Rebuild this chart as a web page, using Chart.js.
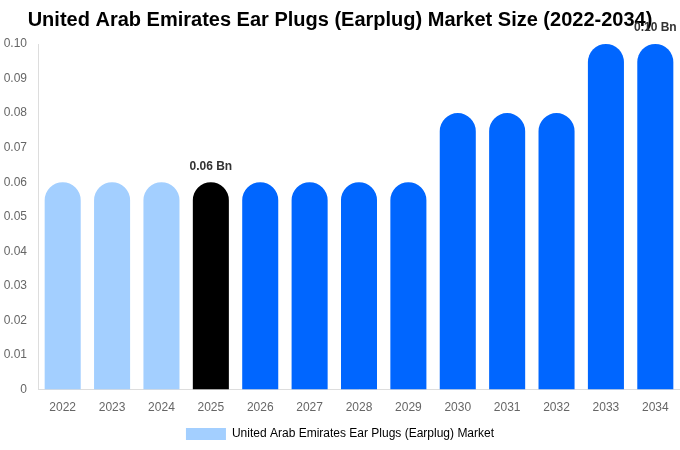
<!DOCTYPE html>
<html>
<head>
<meta charset="utf-8">
<script src="https://cdn.jsdelivr.net/npm/chart.js@4"></script>
<style>
  html, body { margin: 0; padding: 0; background: #fff; }
  #wrap { width: 680px; height: 450px; }
</style>
</head>
<body>
<div id="wrap"><canvas id="myCanvas"></canvas></div>
<script>
const years = ["2022", "2023", "2024", "2025", "2026", "2027", "2028", "2029", "2030", "2031", "2032", "2033", "2034"];
const marketSize = [0.06, 0.06, 0.06, 0.06, 0.06, 0.06, 0.06, 0.06, 0.08, 0.08, 0.08, 0.10, 0.10];
const barColors = ["#a3cfff", "#a3cfff", "#a3cfff", "#000000", "#0066ff", "#0066ff", "#0066ff", "#0066ff", "#0066ff", "#0066ff", "#0066ff", "#0066ff", "#0066ff"];
const labelledBars = [3, 12];

// draws the "x Bn" text above a few bars
const valueLabels = {
   id: "valueLabels",
   afterDatasetsDraw(chart) {
      const ctx = chart.ctx;
      const meta = chart.getDatasetMeta(0);
      ctx.save();
      ctx.font = "bold 12px 'Liberation Sans', Arial, sans-serif";
      ctx.fillStyle = "#333";
      ctx.textAlign = "center";
      ctx.textBaseline = "bottom";
      labelledBars.forEach(i => {
         const bar = meta.data[i];
         ctx.fillText(marketSize[i].toFixed(2) + " Bn", bar.x, bar.y - 10);
      });
      ctx.restore();
   }
};

Chart.defaults.font.family = "'Liberation Sans', Arial, sans-serif";
Chart.defaults.color = "#666";

new Chart(document.getElementById("myCanvas").getContext("2d"), {
   type: "bar",
   data: {
      labels: years,
      datasets: [
         {
            label: "United Arab Emirates Ear Plugs (Earplug) Market",
            data: marketSize,
            backgroundColor: barColors,
            borderRadius: 20,
            borderSkipped: "bottom",
            barPercentage: 0.73,
            categoryPercentage: 1
         }
      ]
   },
   options: {
      responsive: true,
      maintainAspectRatio: false,
      animation: false,
      layout: { padding: 0 },
      plugins: {
         title: {
            display: true,
            text: "United Arab Emirates Ear Plugs (Earplug) Market Size (2022-2034)",
            color: "#000",
            font: { size: 20, weight: "bold" },
            padding: { top: 8, bottom: 12 }
         },
         legend: {
            position: "bottom",
            labels: {
               boxWidth: 40,
               boxHeight: 12,
               color: "#666",
               font: { size: 12 },
               generateLabels: () => [{
                  text: "United Arab Emirates Ear Plugs (Earplug) Market",
                  fillStyle: "#a3cfff",
                  strokeStyle: "#a3cfff",
                  lineWidth: 0,
                  hidden: false,
                  datasetIndex: 0
               }]
            }
         },
         tooltip: { enabled: false }
      },
      scales: {
         x: {
            grid: { display: false, drawTicks: false },
            border: { color: "#ddd" },
            ticks: { font: { size: 12 }, padding: 11 },
            afterFit: s => { s.height -= 8; }
         },
         y: {
            min: 0,
            max: 0.1,
            grid: { display: false, drawTicks: false },
            border: { color: "#ddd" },
            ticks: {
               stepSize: 0.01,
               font: { size: 12 },
               padding: 11,
               callback: v => v === 0 ? "0" : v.toFixed(2)
            },
            afterFit: s => { s.width = 38; }
         }
      }
   },
   plugins: [valueLabels]
});
</script>
</body>
</html>
